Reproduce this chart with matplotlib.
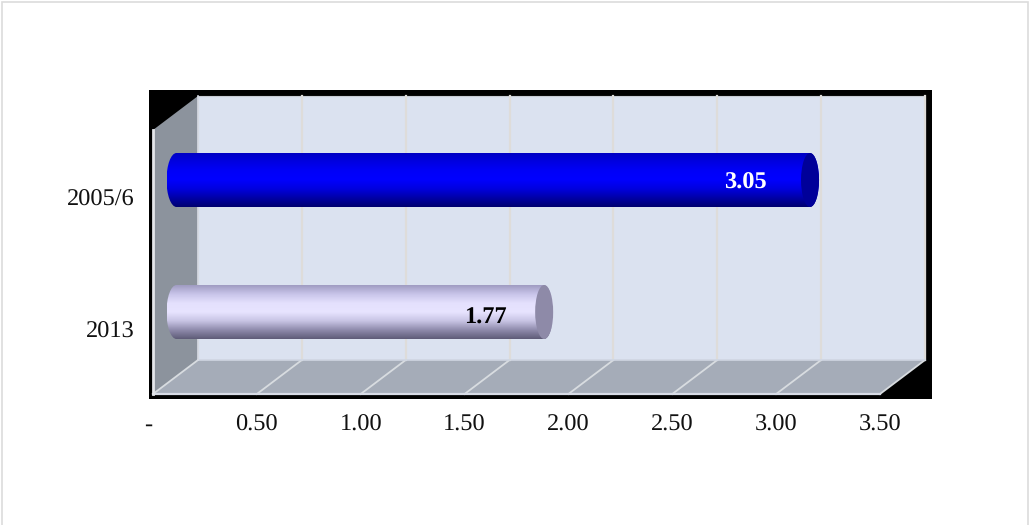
import numpy as np
import matplotlib
matplotlib.use("Agg")
import matplotlib.pyplot as plt
from matplotlib.patches import Polygon, Rectangle, PathPatch, Ellipse
from matplotlib.path import Path
from matplotlib.colors import LinearSegmentedColormap
from matplotlib.transforms import ScaledTranslation

categories = ["2013", "2005/6"]
values = [1.77, 3.05]
tick_values = [0, 0.5, 1.0, 1.5, 2.0, 2.5, 3.0, 3.5]
tick_labels = ["-", "0.50", "1.00", "1.50", "2.00", "2.50", "3.00", "3.50"]
label_colors = ["black", "white"]
label_shift_x = [-59, -65]
label_shift_y = [-6, -3]
bar_stops = [
    ["#a09cc2", "#c9c5ea", "#e4e0fd", "#e8e4ff", "#c8c4e4", "#8f8bac", "#5f5c78"],
    ["#0000c0", "#0000e0", "#0000f8", "#0000ff", "#0000e0", "#0000a8", "#000070"],
]
end_colors = ["#8e8aa8", "#000099"]

W, H = 1029, 525
plt.rcParams["font.family"] = ["Liberation Serif", "DejaVu Serif"]
plt.rcParams["text.hinting"] = "none"
fig = plt.figure(figsize=(W / 100, H / 100), dpi=100, facecolor="white")

# front plane of the 3D box
L, R, T, B = 153, 880, 130, 394
ax = fig.add_axes([L / W, 1 - B / H, (R - L) / W, (B - T) / H])
ax.set_zorder(5)
ax.set_xlim(0, 3.5)
ax.set_ylim(0, 2)
ax.patch.set_visible(False)
for s in ax.spines.values():
    s.set_visible(False)

ppx = (R - L) / 3.5
ppy = (B - T) / 2
dx = 45 / ppx
dy = 34 / ppy


def fr(x0, y0, x1, y1, **kw):
    fig.patches.append(Rectangle((x0 / W, 1 - y1 / H), (x1 - x0) / W, (y1 - y0) / H,
                                 transform=fig.transFigure, **kw))


# page border and black frame
fr(1.5, 2, 1027.5, 540, fc="white", ec="#dcdcdc", lw=1.2, zorder=0)
fr(149, 90, 932, 399, fc="black", ec="none", zorder=0.5)

kw = dict(clip_on=False)
# back wall
ax.add_patch(Polygon([(dx, dy), (3.5 + dx, dy), (3.5 + dx, 2 + dy), (dx, 2 + dy)],
                     fc="#dbe2f0", ec="#c8ccd4", lw=0.8, zorder=1, **kw))
# left wall
ax.add_patch(Polygon([(0, 0), (dx, dy), (dx, 2 + dy), (0, 2)],
                     fc="#8c939d", ec="none", zorder=1.1, **kw))
# floor
ax.add_patch(Polygon([(0, 0), (3.5, 0), (3.5 + dx, dy), (dx, dy)],
                     fc="#a5acb8", ec="none", zorder=1.1, **kw))

# grid lines
for v in tick_values[1:]:
    ax.plot([v + dx, v + dx], [dy, 2 + dy], color="#dedcda", lw=1.6, zorder=1.2, **kw)
for v in tick_values:
    ax.plot([v, v + dx], [0, dy], color="#d8dce0", lw=1.3, zorder=1.2, **kw)
ax.plot([dx, 3.5 + dx], [dy, dy], color="#d0d6e2", lw=1.2, zorder=1.2, **kw)
ax.plot([dx, dx], [dy, 2 + dy], color="#d8dce4", lw=1.2, zorder=1.2, **kw)
ax.plot([0, 3.5], [0, 0], color="#d8dce6", lw=1.6, zorder=1.3, **kw)
ax.plot([0, 0], [0, 2], color="#e4e6ea", lw=2.0, zorder=1.3, **kw)

# cylinders
bar_h = 54 / ppy
rx = 10 / ppx
rx_end = 9 / ppx
mx, my = dx / 2 + 1 / ppx, dy / 2 - 1 / ppy
for i, (v, c) in enumerate(zip(values, categories)):
    yc = i + 0.5 + my
    x0, x1 = mx, v + mx
    y0, y1 = yc - bar_h / 2, yc + bar_h / 2
    cmap = LinearSegmentedColormap.from_list("c%d" % i, bar_stops[i])
    grad = np.linspace(0, 1, 128).reshape(-1, 1)
    k = 0.5523
    verts = [(x0, y0), (x1, y0),
             (x1 + rx_end * k, y0), (x1 + rx_end, yc - bar_h / 2 * k), (x1 + rx_end, yc),
             (x1 + rx_end, yc + bar_h / 2 * k), (x1 + rx_end * k, y1), (x1, y1),
             (x0, y1),
             (x0 - rx * k, y1), (x0 - rx, yc + bar_h / 2 * k), (x0 - rx, yc),
             (x0 - rx, yc - bar_h / 2 * k), (x0 - rx * k, y0), (x0, y0),
             (x0, y0)]
    codes = [Path.MOVETO, Path.LINETO] + [Path.CURVE4] * 6 + [Path.LINETO] + [Path.CURVE4] * 6 + [Path.CLOSEPOLY]
    clip = PathPatch(Path(verts, codes), fc="none", ec="none", transform=ax.transData, **kw)
    ax.add_patch(clip)
    im = ax.imshow(grad, extent=(x0 - rx, x1 + rx_end, y0, y1), origin="upper", cmap=cmap,
                   aspect="auto", zorder=2, interpolation="bilinear")
    im.set_clip_path(clip)
    ax.add_patch(Ellipse((x1, yc), 2 * rx_end, bar_h, fc=end_colors[i], ec="none", zorder=2.1, **kw))
    ax.annotate(f"{v:.2f}", (v + mx, yc), xytext=(label_shift_x[i] * 0.72, label_shift_y[i] * 0.72),
                textcoords="offset points", ha="center", va="center", fontsize=17.6,
                fontweight="bold", color=label_colors[i], zorder=3)

ax.set_xlim(0, 3.5)
ax.set_ylim(0, 2)

ax.set_xticks(tick_values)
ax.set_xticklabels(tick_labels, fontsize=17.6, color="#111111")
ax.set_yticks([0.5, 1.5])
ax.set_yticklabels(categories, fontsize=17.6, color="#111111")
ax.tick_params(axis="both", length=0)
ax.tick_params(axis="x", pad=14.5)
ax.tick_params(axis="y", pad=13.3)
first = ax.get_xticklabels()[0]
first.set_transform(first.get_transform() + ScaledTranslation(-5 / 100, 0, fig.dpi_scale_trans))
for lab in ax.get_yticklabels():
    lab.set_transform(lab.get_transform() + ScaledTranslation(0, -1 / 100, fig.dpi_scale_trans))

fig.savefig("out.png", dpi=100)
